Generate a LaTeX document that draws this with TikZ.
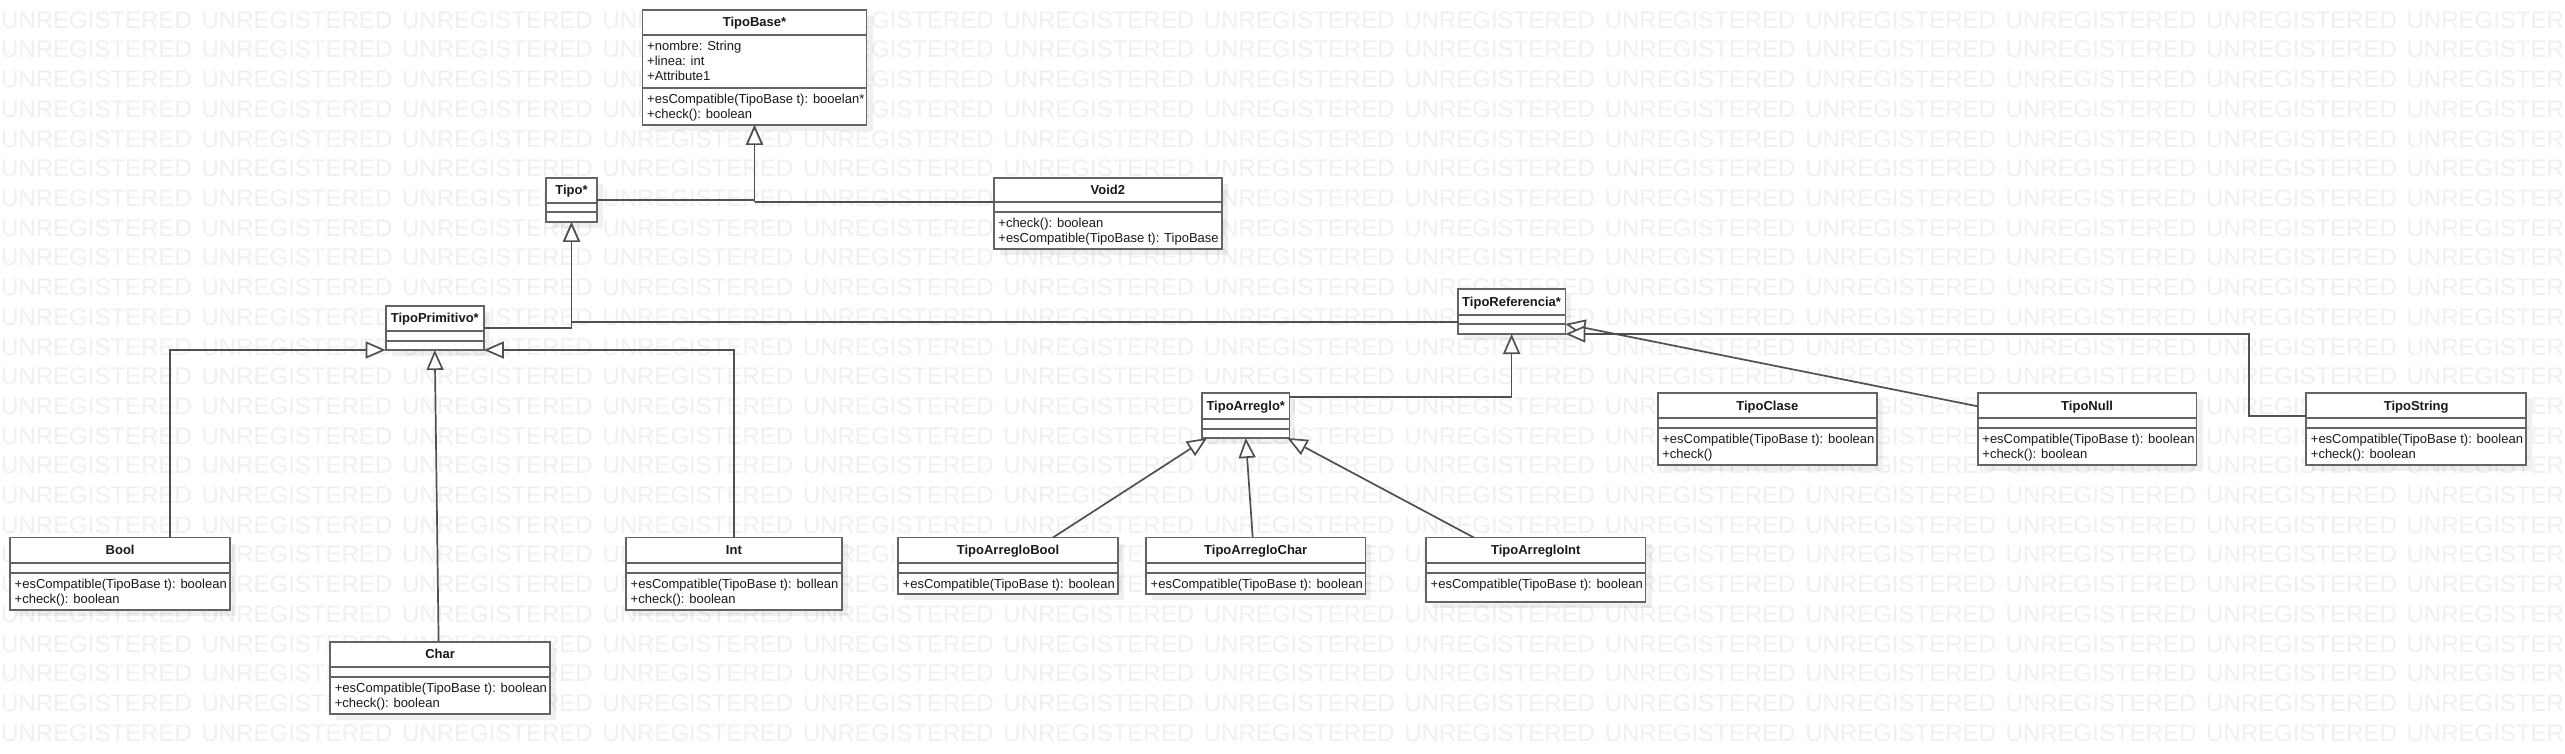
\documentclass[tikz,border=0pt]{standalone}
\usepackage{fontspec}
\newfontfamily\lsans{Liberation Sans}
\usetikzlibrary{arrows.meta,calc}
\definecolor{wmc}{RGB}{240,240,240}
\definecolor{boxc}{RGB}{100,100,100}
\definecolor{linec}{RGB}{80,80,80}
\definecolor{txtc}{RGB}{25,25,25}
% #1 name, #2 left, #3 top, #4 right, #5 bottom, #6 header line, #7 second line, #8 title
\newcommand\umlclass[8]{%
  \fill[shadowc] (#2+6,-#3-6) rectangle (#4+6,-#5-6);
  \node[clsbox, minimum width={#4-#2}, minimum height={#5-#3}, anchor=north west] (#1) at (#2,-#3) {};
  \draw[clsline] (#2,-#6) -- (#4,-#6) (#2,-#7) -- (#4,-#7);
  \node[clstitle, anchor=base] (#1-title) at ({(#2+#4)/2},{-(#3+#6)/2-4.6}) {#8};
}
\begin{document}
\begin{tikzpicture}[x=1pt,y=1pt,
  wm/.style={inner sep=0pt, anchor=base west, text=wmc, font=\lsans\fontsize{24}{24}\selectfont},
  shadowc/.style={fill=black, opacity=0.06},
  clsbox/.style={draw=boxc, line width=1.8pt, fill=white, inner sep=0pt, outer sep=0pt},
  clsline/.style={draw=boxc, line width=1.8pt},
  clstitle/.style={inner sep=0pt, text=txtc, font=\lsans\bfseries\fontsize{13}{15}\selectfont},
  clstext/.style={inner sep=0pt, anchor=north west, align=left, text=txtc, font=\lsans\fontsize{13}{15}\selectfont},
  gen/.style={draw=linec, line width=1.7pt, -{Triangle[length=20pt,width=17pt,fill=white]}},
  plain/.style={draw=linec, line width=1.7pt}
]
\useasboundingbox (0,0) rectangle (2565,-754);
\fill[white] (0,0) rectangle (2565,-754);
\begin{scope}
\clip (0,0) rectangle (2565,-754);
\foreach \i in {0,...,24}{
  \foreach \k in {0,...,12}{
    \node[wm] (wm-\i-\k) at ({1+200.45*\k},{-28.3-29.7*\i}) {UNREGISTERED};
  }
}
\end{scope}

% classes
\umlclass{tb}{642.5}{10}{866.5}{125}{34.7}{88.3}{TipoBase*}
\node[clstext] (tb-attr) at (647,-39.2) {\rule{0pt}{11pt}+nombre: String\\+linea: int\\+Attribute1};
\node[clstext] (tb-ops) at (647,-92.8) {\rule{0pt}{11pt}+esCompatible(TipoBase t): booelan*\\+check(): boolean};

\umlclass{tipo}{545.7}{177.7}{597.3}{222}{202.7}{212.3}{Tipo*}

\umlclass{vd}{993.7}{178.3}{1222}{249.3}{202.3}{212.3}{Void2}
\node[clstext] (vd-ops) at (998.2,-216.6) {\rule{0pt}{11pt}+check(): boolean\\+esCompatible(TipoBase t): TipoBase};

\umlclass{tp}{385.7}{305.7}{483.9}{350}{330.7}{340.7}{TipoPrimitivo*}

\umlclass{tr}{1457.8}{289.3}{1565.4}{334}{314.7}{324.3}{TipoReferencia*}

\umlclass{bool}{10}{537.5}{230.3}{610}{562.7}{572.7}{Bool}
\node[clstext] (bool-ops) at (14.5,-577) {\rule{0pt}{11pt}+esCompatible(TipoBase t): boolean\\+check(): boolean};

\umlclass{int}{626}{537.5}{841.8}{610}{562.7}{572.7}{Int}
\node[clstext] (int-ops) at (630.5,-577) {\rule{0pt}{11pt}+esCompatible(TipoBase t): bollean\\+check(): boolean};

\umlclass{char}{330.2}{641.7}{550}{714}{666.7}{676.7}{Char}
\node[clstext] (char-ops) at (334.7,-681) {\rule{0pt}{11pt}+esCompatible(TipoBase t): boolean\\+check(): boolean};

\umlclass{ta}{1202.1}{393.3}{1289.4}{438}{419.3}{428.7}{TipoArreglo*}

\umlclass{tab}{898}{537.5}{1118}{594.3}{562.7}{572.7}{TipoArregloBool}
\node[clstext] (tab-ops) at (902.5,-577) {\rule{0pt}{11pt}+esCompatible(TipoBase t): boolean};

\umlclass{tac}{1146}{537.5}{1365.4}{594.3}{562.7}{572.7}{TipoArregloChar}
\node[clstext] (tac-ops) at (1150.5,-577) {\rule{0pt}{11pt}+esCompatible(TipoBase t): boolean};

\umlclass{tai}{1426}{537.5}{1645.5}{601.7}{562.7}{572.7}{TipoArregloInt}
\node[clstext] (tai-ops) at (1430.5,-577) {\rule{0pt}{11pt}+esCompatible(TipoBase t): boolean};

\umlclass{tc}{1657.6}{393.3}{1877}{465}{418.3}{428.3}{TipoClase}
\node[clstext] (tc-ops) at (1662.1,-432.6) {\rule{0pt}{11pt}+esCompatible(TipoBase t): boolean\\+check()};

\umlclass{tn}{1977.7}{393.3}{2196.5}{465}{418.3}{428.3}{TipoNull}
\node[clstext] (tn-ops) at (1982.2,-432.6) {\rule{0pt}{11pt}+esCompatible(TipoBase t): boolean\\+check(): boolean};

\umlclass{ts}{2306.2}{393.3}{2526.2}{465}{418.3}{428.3}{TipoString}
\node[clstext] (ts-ops) at (2310.7,-432.6) {\rule{0pt}{11pt}+esCompatible(TipoBase t): boolean\\+check(): boolean};

% generalizations
\coordinate (vd-join) at ($(vd.north west)+(0,-23.7)$);
\coordinate (tb-join) at (tb.south |- vd-join);
\draw[plain] (vd-join) -- (tb-join);
\draw[gen] (tb-join) -- (tb.south);
\draw[gen] (tipo.east) -| (tb.south);
\draw[gen] ($(tr.west)+(0,-10)$) -| (tipo.south);
\draw[gen] (tp.east) -| (tipo.south);
\draw[gen] ($(bool.north)+(50,0)$) |- (tp.south west);
\draw[gen] (int.north) |- (tp.south east);
\draw[gen] ($(char.north)+(-1.5,0)$) -- (tp.south);
\draw[gen] ($(ta.north east)+(0,-4)$) -| (tr.south);
\draw[gen] ($(tab.north)+(45,0)$) -- ($(ta.south west)+(5,0)$);
\draw[gen] ($(tac.north)+(-3,0)$) -- (ta.south);
\draw[gen] ($(tai.north)+(-62,0)$) -- ($(ta.south east)+(-2,0)$);
\draw[gen] ($(tn.north west)+(0,-13)$) -- ($(tr.south east)+(0,10)$);
\draw[gen] ($(ts.north west)+(0,-22.7)$) -| ($(tr.south east)+(683.4,0)$) -- (tr.south east);
\end{tikzpicture}
\end{document}
